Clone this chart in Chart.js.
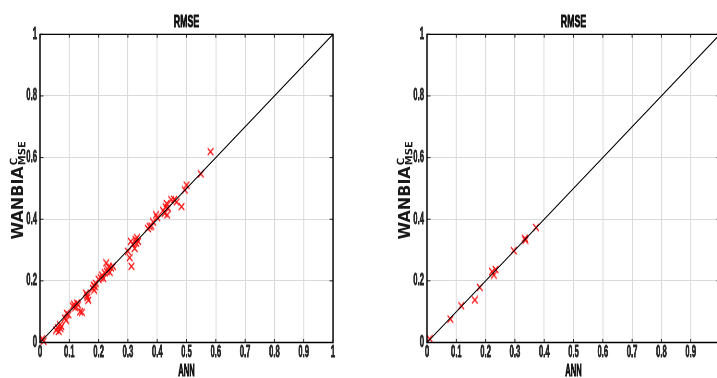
<!DOCTYPE html>
<html><head><meta charset="utf-8">
<script src="https://cdn.jsdelivr.net/npm/chart.js@4.4.1/dist/chart.umd.min.js"></script>
<style>
html,body{margin:0;padding:0;width:717px;height:378px;overflow:hidden;background:#fff;}
canvas{position:absolute;top:0;transform-origin:0 0;}
</style></head><body>
<canvas id="c1" width="750" height="378"></canvas>
<canvas id="c2" width="750" height="378"></canvas>
<script>
// ---------- data ----------
const annLeft = [0.008,0.012,0.055,0.060,0.064,0.068,0.073,0.070,0.085,0.089,0.091,0.097,0.112,0.116,0.120,0.126,0.130,0.137,0.143,0.157,0.162,0.165,0.160,0.180,0.183,0.187,0.190,0.185,0.200,0.207,0.212,0.216,0.221,0.226,0.228,0.232,0.238,0.243,0.249,0.235,0.300,0.306,0.312,0.310,0.317,0.323,0.326,0.331,0.335,0.329,0.368,0.374,0.380,0.386,0.396,0.400,0.420,0.425,0.429,0.432,0.434,0.437,0.448,0.458,0.466,0.483,0.494,0.500,0.549,0.582];
const wanbiaLeft = [0.012,0.004,0.040,0.048,0.036,0.057,0.052,0.045,0.079,0.072,0.095,0.090,0.118,0.124,0.113,0.128,0.122,0.100,0.098,0.160,0.146,0.137,0.152,0.176,0.186,0.182,0.192,0.170,0.205,0.210,0.218,0.208,0.226,0.258,0.230,0.236,0.228,0.242,0.247,0.245,0.296,0.275,0.247,0.328,0.318,0.305,0.334,0.340,0.328,0.322,0.370,0.376,0.378,0.391,0.414,0.405,0.428,0.419,0.440,0.451,0.414,0.436,0.463,0.464,0.456,0.441,0.495,0.511,0.547,0.619];
const annRight = [0.009,0.080,0.117,0.163,0.180,0.222,0.228,0.234,0.296,0.334,0.336,0.372];
const wanbiaRight = [0.012,0.076,0.119,0.138,0.179,0.230,0.219,0.237,0.298,0.338,0.332,0.373];
const diagX = [0,1];
const diagY = [0,1];
const xTickVals = [0,0.1,0.2,0.3,0.4,0.5,0.6,0.7,0.8,0.9,1];
const xTickLabels = ['0','0.1','0.2','0.3','0.4','0.5','0.6','0.7','0.8','0.9','1'];
const yTickVals = [0,0.2,0.4,0.6,0.8,1];
const yTickLabels = ['0','0.2','0.4','0.6','0.8','1'];
const titleText = 'RMSE';
const xTitle = 'ANN';
const yTitleMain = 'WANBIA';
const yTitleSup = 'C';
const yTitleSub = 'MSE';

// ---------- layout ----------
const SX = 0.48; // horizontal condensing of the rendered figure
const CW = 750;
const c1 = document.getElementById('c1');
const c2 = document.getElementById('c2');
c1.style.left = '0px';
c2.style.left = '386.7px';

function makeMarker(){
  const w = Math.round(6.5/SX), h = 9;
  const c = document.createElement('canvas');
  c.width = w; c.height = h;
  const g = c.getContext('2d');
  g.strokeStyle = '#ff1010';
  g.lineWidth = 1.8;
  g.beginPath();
  g.moveTo(1,1); g.lineTo(w-1,h-1);
  g.moveTo(w-1,1); g.lineTo(1,h-1);
  g.stroke();
  return c;
}
const marker = makeMarker();

function boldText(ctx, txt, x, y, w){
  ctx.lineWidth = w;
  ctx.strokeText(txt, x, y);
  ctx.fillText(txt, x, y);
}

const frame = {
  id:'frame',
  afterDraw(chart){
    const {ctx, chartArea:a, scales:{x,y}} = chart;
    ctx.save();
    const tl = 3.5;
    ctx.strokeStyle = '#262626';
    ctx.lineWidth = 1/SX;
    ctx.beginPath();
    xTickVals.forEach(v=>{
      const px = x.getPixelForValue(v);
      ctx.moveTo(px,a.bottom); ctx.lineTo(px,a.bottom-tl);
      ctx.moveTo(px,a.top); ctx.lineTo(px,a.top+tl);
    });
    ctx.stroke();
    ctx.lineWidth = 1;
    ctx.beginPath();
    yTickVals.forEach(v=>{
      const py = y.getPixelForValue(v);
      ctx.moveTo(a.left,py); ctx.lineTo(a.left+tl/SX,py);
      ctx.moveTo(a.right,py); ctx.lineTo(a.right-tl/SX,py);
    });
    ctx.stroke();
    // box
    ctx.strokeStyle = '#000';
    ctx.lineWidth = 1.3;
    ctx.beginPath();
    ctx.moveTo(a.left,a.top); ctx.lineTo(a.right,a.top);
    ctx.moveTo(a.left,a.bottom); ctx.lineTo(a.right,a.bottom);
    ctx.stroke();
    ctx.lineWidth = 1.3/SX;
    ctx.beginPath();
    ctx.moveTo(a.left,a.top-0.65); ctx.lineTo(a.left,a.bottom+0.65);
    ctx.moveTo(a.right,a.top-0.65); ctx.lineTo(a.right,a.bottom+0.65);
    ctx.stroke();
    // title + x label
    ctx.save();
    ctx.fillStyle = '#111';
    ctx.strokeStyle = '#111';
    ctx.textAlign = 'center';
    ctx.textBaseline = 'middle';
    ctx.font = 'bold 17px "Liberation Sans", Arial, sans-serif';
    ctx.save();
    ctx.translate((a.left+a.right)/2, 22.5);
    ctx.scale(1.08, 1);
    boldText(ctx, titleText, 0, 0, 0.9);
    ctx.restore();
    ctx.font = 'bold 16px "Liberation Sans", Arial, sans-serif';
    boldText(ctx, xTitle, (a.left+a.right)/2, 371.5, 0.9);
    ctx.restore();
    // y label
    const bx = a.left - 17/SX;
    const cy = (a.top + a.bottom)/2 + 2;
    ctx.translate(bx, cy);
    ctx.scale(1/SX, 1);
    ctx.rotate(-Math.PI/2);
    ctx.textAlign = 'left';
    ctx.textBaseline = 'alphabetic';
    ctx.fillStyle = '#1a1a1a';
    const fMain = 'bold 16px "DejaVu Sans", sans-serif';
    const fSmall = 'bold 10px "DejaVu Sans", sans-serif';
    ctx.font = fMain;
    const wMain = ctx.measureText(yTitleMain).width;
    ctx.font = fSmall;
    const wSub = ctx.measureText(yTitleSub).width;
    const total = wMain + 1 + wSub;
    const start = -total/2;
    ctx.font = fMain;
    ctx.fillText(yTitleMain, start, 0);
    ctx.font = fSmall;
    ctx.fillText(yTitleSup, start + wMain + 1, -5.5);
    ctx.fillText(yTitleSub, start + wMain + 1, 2.5);
    ctx.restore();
  }
};

const tickFont = {family:'"Liberation Sans", Arial, sans-serif', size:16, weight:'bold'};

function makeChart(canvas, xs, ys){
  const pts = xs.map((v,i)=>({x:v, y:ys[i]}));
  const diag = diagX.map((v,i)=>({x:v, y:diagY[i]}));
  return new Chart(canvas, {
    type:'scatter',
    data:{datasets:[
      {type:'line', data:diag, borderColor:'#000', borderWidth:1.4, pointRadius:0, fill:false, order:0},
      {type:'scatter', data:pts, pointStyle:marker, pointRadius:5, borderColor:'#f00', backgroundColor:'#f00', order:1, clip:false}
    ]},
    options:{
      responsive:false, animation:false, events:[],
      layout:{padding:{top:34.3, right:CW - 333/SX, bottom:0, left:0}},
      plugins:{legend:{display:false}, tooltip:{enabled:false}, title:{display:false}},
      scales:{
        x:{
          type:'linear', min:0, max:1,
          afterBuildTicks:s=>{ s.ticks = xTickVals.map(v=>({value:v})); },
          afterFit:s=>{ s.height = 35.5; },
          grid:{color:'#dadada', lineWidth:1/SX, drawTicks:false},
          border:{display:false},
          ticks:{padding:0.5, font:tickFont, color:'#262626', textStrokeColor:'#262626', textStrokeWidth:0.8,
                 maxRotation:0, autoSkip:false, callback:(v,i)=>xTickLabels[i]}
        },
        y:{
          type:'linear', min:0, max:1,
          afterBuildTicks:s=>{ s.ticks = yTickVals.map(v=>({value:v})); },
          afterFit:s=>{ s.width = 40/SX; },
          grid:{color:'#dadada', lineWidth:1, drawTicks:false},
          border:{display:false},
          ticks:{padding:3/SX, font:tickFont, color:'#262626', textStrokeColor:'#262626', textStrokeWidth:0.8,
                 autoSkip:false, callback:(v,i)=>yTickLabels[i]}
        }
      }
    },
    plugins:[frame]
  });
}

makeChart(c1, annLeft, wanbiaLeft);
makeChart(c2, annRight, wanbiaRight);
for (const c of [c1,c2]) { c.style.transform = 'scaleX(' + SX + ')'; }
</script>
</body></html>
